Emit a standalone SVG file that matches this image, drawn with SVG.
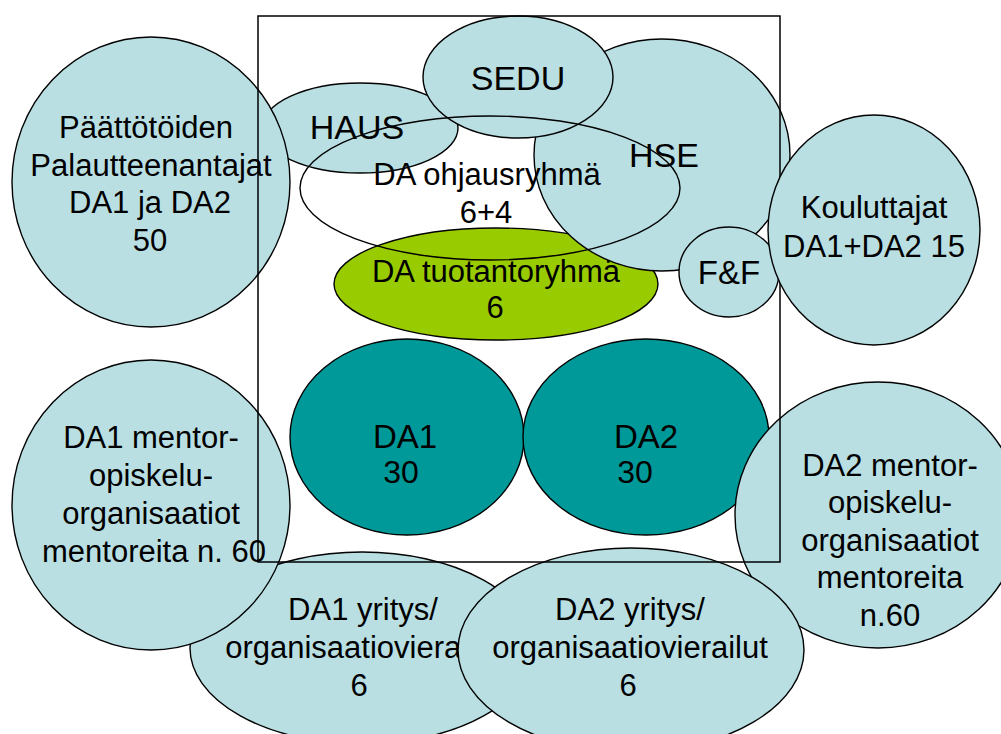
<svg xmlns="http://www.w3.org/2000/svg" width="1001" height="734" viewBox="0 0 1001 734">
<style>
.lb{fill:#B9DFE3;stroke:#000;stroke-width:1.4}
.gr{fill:#99CC00;stroke:#000;stroke-width:1.4}
.tl{fill:#009999;stroke:#000;stroke-width:1.4}
.ol{fill:none;stroke:#000;stroke-width:1.4}
text{font-family:"Liberation Sans",Arial,sans-serif;font-size:31px;fill:#000;text-anchor:middle}
.big{font-size:34px}
.mid{font-size:33px}
.num{font-size:32px}
</style>
<rect width="1001" height="734" fill="#fff"/>
<g id="haus"><ellipse class="lb" cx="360" cy="128" rx="98" ry="45"/><text class="big" x="357" y="139">HAUS</text></g>
<g id="paattotoiden"><ellipse class="lb" cx="151" cy="182" rx="139" ry="145"/>
<text x="146" y="138">Päättötöiden</text><text x="151" y="176">Palautteenantajat</text><text x="150" y="213">DA1 ja DA2</text><text x="150" y="251">50</text></g>
<g id="tuotantoryhma"><ellipse class="gr" cx="496" cy="284" rx="162" ry="56"/><text x="496" y="282">DA tuotantoryhmä</text><text x="495" y="318">6</text></g>
<g id="hse"><ellipse class="lb" cx="662" cy="155" rx="128" ry="116"/><text class="big" x="664" y="167">HSE</text></g>
<g id="sedu"><ellipse class="lb" cx="518" cy="77" rx="95" ry="61"/><text class="big" x="518" y="90">SEDU</text></g>
<g id="ff"><ellipse class="lb" cx="729" cy="272" rx="50" ry="45"/><text class="mid" x="729" y="284">F&amp;F</text></g>
<g id="da1"><ellipse class="tl" cx="407" cy="437" rx="117" ry="98"/><text class="mid" x="405" y="448">DA1</text><text class="num" x="401" y="483">30</text></g>
<g id="da2"><ellipse class="tl" cx="646" cy="437" rx="123" ry="98"/><text class="mid" x="646" y="448">DA2</text><text class="num" x="635" y="483">30</text></g>
<g id="da2mentor"><ellipse class="lb" cx="878" cy="515" rx="143" ry="133"/>
<text x="890" y="476">DA2 mentor-</text><text x="890" y="513">opiskelu-</text><text x="890" y="551">organisaatiot</text><text x="890" y="588">mentoreita</text><text x="890" y="626">n.60</text></g>
<g id="da1yritys"><ellipse class="lb" cx="362" cy="648" rx="172" ry="96"/>
<text x="363" y="620">DA1 yritys/</text><text x="363" y="658">organisaatiovierailut</text><text x="359" y="696">6</text></g>
<g id="da1mentor"><ellipse class="lb" cx="151" cy="505" rx="139" ry="145"/>
<text x="151" y="448">DA1 mentor-</text><text x="151" y="486">opiskelu-</text><text x="151" y="524">organisaatiot</text><text x="154" y="562">mentoreita n. 60</text></g>
<g id="da2yritys"><ellipse class="lb" cx="631" cy="650" rx="173" ry="102"/>
<text x="630" y="620">DA2 yritys/</text><text x="630" y="658">organisaatiovierailut</text><text x="628" y="696">6</text></g>
<g id="frame"><rect x="258" y="16" width="522" height="546" fill="none" stroke="#000" stroke-width="1.5"/></g>
<g id="ohjausryhma"><ellipse class="ol" cx="490" cy="188" rx="190" ry="72"/><text x="487" y="185">DA ohjausryhmä</text><text x="486" y="223">6+4</text></g>
<g id="kouluttajat"><ellipse class="lb" cx="874" cy="230" rx="106" ry="115"/><text x="874" y="218">Kouluttajat</text><text x="874" y="257">DA1+DA2 15</text></g>
<g id="connectors"></g>
</svg>
